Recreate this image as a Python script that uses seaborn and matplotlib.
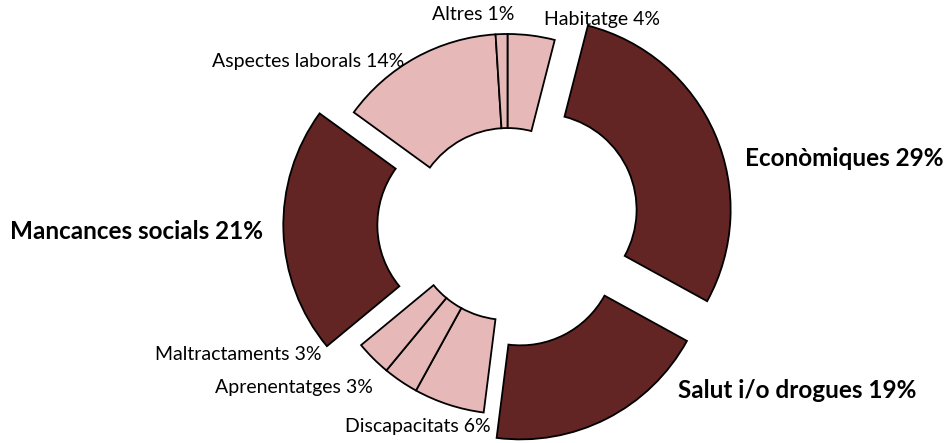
import matplotlib
matplotlib.use('Agg')
import matplotlib.pyplot as plt
import seaborn as sns

# Motius (percentatges), clockwise from 12 o'clock
categories = ['Habitatge', 'Econòmiques', 'Salut i/o drogues', 'Discapacitats',
              'Aprenentatges', 'Maltractaments', 'Mancances socials',
              'Aspectes laborals', 'Altres']
values = [4, 29, 19, 6, 3, 3, 21, 14, 1]
highlight = [False, True, True, False, False, False, True, False, False]

# layout: how far each highlighted slice is pulled out
explode_amount = {'Econòmiques': 0.19, 'Salut i/o drogues': 0.15, 'Mancances socials': 0.18}

# label centres, in units of the outer radius
label_pos = {
    'Habitatge': (0.50, 1.074),
    'Econòmiques': (1.774, 0.347),
    'Salut i/o drogues': (1.526, -0.874),
    'Discapacitats': (-0.474, -1.068),
    'Aprenentatges': (-1.126, -0.863),
    'Maltractaments': (-1.418, -0.689),
    'Mancances socials': (-1.953, -0.042),
    'Aspectes laborals': (-1.05, 0.853),
    'Altres': (-0.179, 1.10),
}

dark = '#632523'
light = '#E6B9B8'

sns.set_theme(style='white')
plt.rcParams['font.family'] = ['Lato', 'DejaVu Sans']

fig = plt.figure(figsize=(9.47, 4.43), dpi=100)
ax = fig.add_axes([0, 0, 1, 1])

colors = [dark if h else light for h in highlight]
explode = [explode_amount.get(c, 0) for c in categories]

ax.pie(values, colors=colors, explode=explode, startangle=90, counterclock=False,
       radius=1, wedgeprops=dict(width=0.495, edgecolor='black', linewidth=1.3))

for cat, val, h in zip(categories, values, highlight):
    x, y = label_pos[cat]
    ax.text(x, y, f'{cat} {val}%', ha='center', va='center',
            fontsize=17.5 if h else 14, fontweight='bold' if h else 'normal',
            color='black')

# 190 px per unit in both directions, centre at (507, 224) from top-left
ax.set_xlim(-507.5 / 190, (947 - 507.5) / 190)
ax.set_ylim((224 - 443) / 190, 224 / 190)
ax.set_aspect('auto')
ax.axis('off')

fig.savefig('out.png', dpi=100, facecolor='white')
